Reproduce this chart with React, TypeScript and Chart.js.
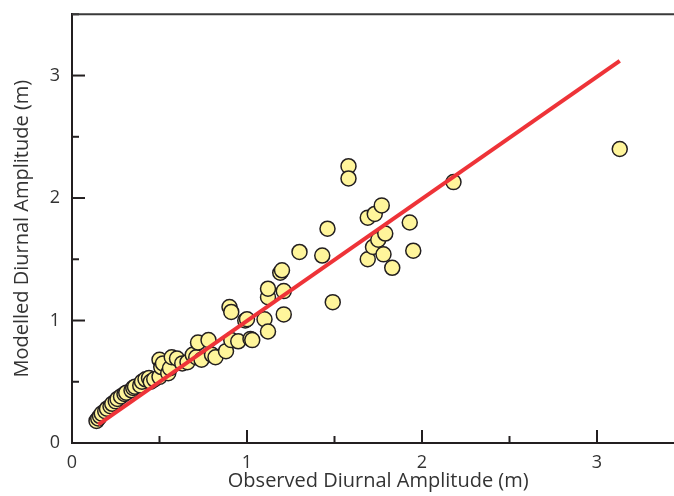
import { useEffect, useRef } from "react";
import { Chart, registerables } from "chart.js";

Chart.register(...registerables);

const observed = [
  0.14, 0.15, 0.16, 0.17, 0.19, 0.2, 0.22, 0.23, 0.25, 0.26, 0.28, 0.3, 0.31, 0.34, 0.35,
  0.36, 0.39, 0.4, 0.42, 0.44, 0.45, 0.47, 0.5, 0.5, 0.51, 0.52, 0.55, 0.56, 0.57, 0.6,
  0.63, 0.66, 0.69, 0.71, 0.72, 0.74, 0.78, 0.8, 0.82, 0.88, 0.9, 0.91, 0.91, 0.95, 0.99,
  1.0, 1.02, 1.03, 1.1, 1.12, 1.12, 1.12, 1.19, 1.2, 1.21, 1.21, 1.3, 1.43, 1.46, 1.49,
  1.58, 1.58, 1.69, 1.69, 1.72, 1.73, 1.75, 1.77, 1.78, 1.79, 1.83, 1.93, 1.95, 2.18, 3.13,
];
const modelled = [
  0.18, 0.2, 0.22, 0.24, 0.26, 0.28, 0.3, 0.32, 0.34, 0.36, 0.38, 0.4, 0.41, 0.43, 0.45,
  0.46, 0.47, 0.5, 0.52, 0.53, 0.5, 0.52, 0.54, 0.68, 0.62, 0.65, 0.57, 0.61, 0.7, 0.69,
  0.65, 0.66, 0.72, 0.7, 0.82, 0.68, 0.84, 0.72, 0.7, 0.75, 1.11, 1.07, 0.84, 0.83, 1.0,
  1.01, 0.85, 0.84, 1.01, 0.91, 1.19, 1.26, 1.39, 1.41, 1.24, 1.05, 1.56, 1.53, 1.75, 1.15,
  2.26, 2.16, 1.84, 1.5, 1.6, 1.87, 1.66, 1.94, 1.54, 1.71, 1.43, 1.8, 1.57, 2.13, 2.4,
];
const fitX = [0.15, 3.13];
const fitY = [0.15, 3.12];
const majorTicks = [0, 1, 2, 3];
const minorTicks = [0.5, 1.5, 2.5, 3.5];
const xTitle = "Observed Diurnal Amplitude (m)";
const yTitle = "Modelled Diurnal Amplitude (m)";

const AXIS = "#231F20";
const FONT = "'Open Sans', 'DejaVu Sans', sans-serif";

const inwardTicks = {
  id: "inwardTicks",
  beforeDatasetsDraw(chart: any) {
    const { ctx, chartArea, scales } = chart;
    ctx.save();
    ctx.strokeStyle = AXIS;
    ctx.lineWidth = 2;
    const tickX = (vals: number[], len: number) =>
      vals.forEach((v) => {
        const px = scales.x.getPixelForValue(v);
        ctx.beginPath();
        ctx.moveTo(px, chartArea.bottom);
        ctx.lineTo(px, chartArea.bottom - len);
        ctx.stroke();
      });
    const tickY = (vals: number[], len: number) =>
      vals.forEach((v) => {
        const py = scales.y.getPixelForValue(v);
        ctx.beginPath();
        ctx.moveTo(chartArea.left, py);
        ctx.lineTo(chartArea.left + len, py);
        ctx.stroke();
      });
    tickX(majorTicks, 13);
    tickX(minorTicks, 7);
    tickY(majorTicks, 13);
    tickY(minorTicks, 7);
    ctx.strokeStyle = "#3a3a3a";
    ctx.beginPath();
    ctx.moveTo(chartArea.left, chartArea.top);
    ctx.lineTo(chartArea.right, chartArea.top);
    ctx.stroke();
    ctx.restore();
  },
};

export default function App() {
  const ref = useRef<HTMLCanvasElement | null>(null);
  useEffect(() => {
    if (!ref.current) return;
    const chart = new Chart(ref.current, {
      type: "scatter",
      data: {
        datasets: [
          {
            type: "line",
            data: fitX.map((x, i) => ({ x, y: fitY[i] })),
            borderColor: "#EE3338",
            borderWidth: 4,
            pointRadius: 0,
            fill: false,
            order: 0,
          } as any,
          {
            data: observed.map((x, i) => ({ x, y: modelled[i] })),
            backgroundColor: "#FFF59B",
            borderColor: AXIS,
            borderWidth: 1.5,
            pointRadius: 7.5,
            order: 1,
          },
        ],
      },
      plugins: [inwardTicks],
      options: {
        responsive: false,
        animation: false,
        events: [],
        layout: { padding: { left: 0, top: 14.3, right: 15.5, bottom: 0 } },
        plugins: { legend: { display: false }, tooltip: { enabled: false } },
        scales: {
          x: {
            type: "linear",
            min: 0,
            max: 3.5,
            afterBuildTicks: (s: any) => {
              s.ticks = majorTicks.map((value) => ({ value }));
            },
            afterFit: (s: any) => {
              s.height = 67;
              s.paddingLeft = 0;
              s.paddingRight = 0;
            },
            grid: { display: false, drawTicks: false },
            border: { display: true, color: AXIS, width: 2 },
            ticks: { padding: 9, color: "#333", font: { family: FONT, size: 18 }, maxRotation: 0 },
            title: {
              display: true,
              text: xTitle,
              color: "#333",
              font: { family: FONT, size: 20 },
              padding: { top: 0, bottom: 17 },
            },
          },
          y: {
            type: "linear",
            min: 0,
            max: 3.5,
            afterBuildTicks: (s: any) => {
              s.ticks = majorTicks.map((value) => ({ value }));
            },
            afterFit: (s: any) => {
              s.width = 72;
              s.paddingTop = 0;
              s.paddingBottom = 0;
            },
            grid: { display: false, drawTicks: false },
            border: { display: true, color: AXIS, width: 2 },
            ticks: { padding: 12, color: "#333", font: { family: FONT, size: 18 } },
            title: {
              display: true,
              text: yTitle,
              color: "#333",
              font: { family: FONT, size: 20 },
              padding: { top: 10, bottom: 0 },
            },
          },
        },
      },
    });
    return () => chart.destroy();
  }, []);
  return (
    <div
      style={{
        position: "absolute",
        left: 0,
        top: 0,
        width: 674,
        height: 496,
        overflow: "hidden",
        background: "#fff",
      }}
    >
      <canvas ref={ref} width={700} height={510} style={{ display: "block", width: 700, height: 510 }} />
    </div>
  );
}
